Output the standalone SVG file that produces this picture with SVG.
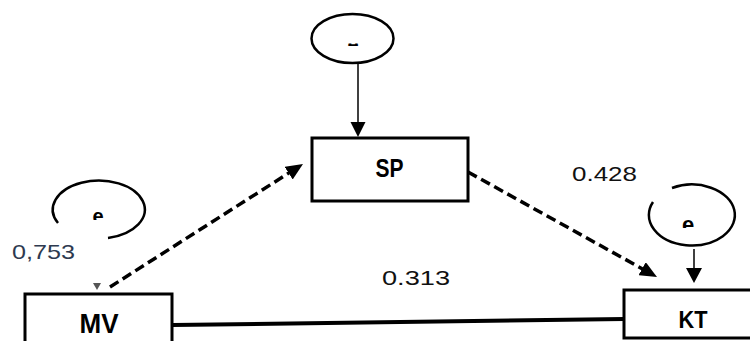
<svg xmlns="http://www.w3.org/2000/svg" width="750" height="341" viewBox="0 0 750 341">
<style>
.box{fill:#fff;stroke:#000;stroke-width:3}
.ell{fill:none;stroke:#000;stroke-width:2.5}
.nm{font-family:"Liberation Sans",Arial,sans-serif;font-weight:bold;fill:#000;text-anchor:middle}
.err{font-family:"Liberation Sans",Arial,sans-serif;font-weight:bold;font-size:20px;fill:#000;text-anchor:middle}
.num{font-family:"Liberation Sans",Arial,sans-serif;font-size:21px;fill:#111}
.dash{fill:none;stroke:#000;stroke-width:3.5;stroke-dasharray:10 5}
.thin{fill:none;stroke:#000;stroke-width:1.5}
</style>
<defs>
<marker id="ah" markerUnits="userSpaceOnUse" markerWidth="17" markerHeight="15" viewBox="0 0 17 15" refX="1" refY="7.5" orient="auto">
<path d="M0,0 L17,7.5 L0,15 z" fill="#000"/>
</marker>
<clipPath id="c1"><rect x="340" y="43.5" width="25" height="2.5"/></clipPath>
<clipPath id="c2"><rect x="85" y="205" width="30" height="15"/></clipPath>
<clipPath id="c3"><rect x="675" y="210" width="30" height="18"/></clipPath>
</defs>

<g id="err-sp">
<ellipse class="ell" cx="352.5" cy="38.5" rx="41" ry="24.5"/>
<text class="err" x="353" y="50.5" clip-path="url(#c1)">e</text>
</g>

<g id="err-mv">
<path class="ell" d="M58 223 A46 29 0 1 1 108 238"/>
<text class="err" x="98" y="222.5" clip-path="url(#c2)">e</text>
</g>

<g id="err-kt">
<path class="ell" d="M672 188 A43 30.5 0 1 1 653 202"/>
<text class="err" x="688" y="232" style="font-size:22px" clip-path="url(#c3)">e</text>
</g>

<g id="connectors">
<line class="thin" x1="358" y1="63" x2="358" y2="123"/>
<polygon points="350.5,122 365.5,122 358,137" fill="#000"/>
<line class="thin" x1="694" y1="249" x2="694" y2="268"/>
<polygon points="686,268 702,268 694,283" fill="#000"/>
<polygon points="93,283 101,283 97,290" fill="#555"/>
<line class="dash" x1="110" y1="287" x2="289.5" y2="172.6" marker-end="url(#ah)"/>
<line class="dash" x1="468" y1="172" x2="643" y2="269.2" marker-end="url(#ah)"/>
<line x1="173" y1="325" x2="624" y2="319" stroke="#000" stroke-width="4"/>
</g>

<g id="SP">
<rect class="box" x="312" y="138" width="156" height="63"/>
<text class="nm" x="389.5" y="177" font-size="26" textLength="28" lengthAdjust="spacingAndGlyphs">SP</text>
</g>

<g id="MV">
<rect class="box" x="25" y="294" width="147" height="60"/>
<text class="nm" x="99" y="333" font-size="27" textLength="39" lengthAdjust="spacingAndGlyphs">MV</text>
</g>

<g id="KT">
<rect class="box" x="624" y="290" width="140" height="48"/>
<text class="nm" x="693" y="328" font-size="23" textLength="29" lengthAdjust="spacingAndGlyphs">KT</text>
</g>

<g id="labels">
<text class="num" x="572" y="181" textLength="65" lengthAdjust="spacingAndGlyphs">0.428</text>
<text class="num" x="382" y="285" textLength="68" lengthAdjust="spacingAndGlyphs">0.313</text>
<text class="num" x="12" y="259" textLength="63" lengthAdjust="spacingAndGlyphs" style="fill:#2e3a50">0,753</text>
</g>
</svg>
